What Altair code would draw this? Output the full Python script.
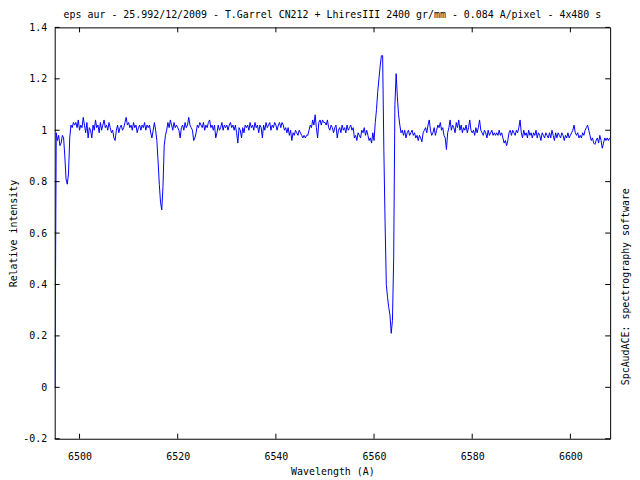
import altair as alt
import pandas as pd

FONT = "DejaVu Sans Mono"

WL_START = 6495.0
WL_STEP = 0.25

f_6495 = [0.00, 0.99, 0.96, 0.98, 0.94, 0.95, 0.98, 0.97, 0.90, 0.81, 0.79, 0.83, 0.97, 1.02, 1.01, 1.03, 1.02, 1.03, 1.01, 1.04]
f_6500 = [1.00, 1.02, 1.01, 1.05, 1.02, 0.99, 1.03, 0.97, 1.01, 1.00, 0.97, 1.02, 1.00, 1.04, 1.01, 1.02, 0.99, 1.03, 1.00, 1.02]
f_6505 = [1.04, 1.01, 1.02, 1.00, 1.03, 1.01, 0.99, 1.00, 0.97, 0.96, 1.00, 1.02, 0.99, 1.01, 1.02, 1.00, 1.01, 1.03, 1.05, 1.02]
f_6510 = [1.03, 1.01, 1.02, 1.00, 1.03, 1.01, 1.02, 0.99, 1.01, 1.02, 1.00, 1.02, 1.01, 1.03, 1.00, 1.02, 1.01, 1.02, 0.99, 0.97]
f_6515 = [1.00, 1.03, 1.00, 0.96, 0.88, 0.79, 0.72, 0.69, 0.78, 0.94, 0.98, 1.00, 1.03, 1.01, 1.04, 1.02, 1.00, 1.03, 1.01, 1.02]
f_6520 = [1.01, 1.00, 0.97, 1.01, 1.02, 1.00, 1.03, 1.01, 1.02, 1.05, 1.02, 1.01, 1.00, 0.96, 0.97, 0.99, 1.02, 1.01, 1.03, 1.02]
f_6525 = [1.01, 1.03, 1.00, 1.02, 1.01, 1.03, 1.04, 1.01, 1.02, 1.00, 1.02, 0.97, 0.99, 1.02, 1.00, 1.01, 1.03, 1.00, 1.02, 1.01]
f_6530 = [1.02, 1.00, 1.02, 1.03, 1.01, 1.02, 1.00, 1.02, 0.99, 0.95, 1.01, 1.00, 0.97, 1.01, 0.99, 1.02, 1.01, 1.02, 1.00, 1.03]
f_6535 = [1.01, 1.02, 1.00, 1.03, 1.01, 1.02, 0.99, 1.02, 1.01, 0.97, 1.02, 1.00, 1.03, 1.01, 1.02, 1.03, 1.00, 1.02, 1.01, 1.03]
f_6540 = [1.02, 1.00, 1.02, 1.03, 1.01, 1.03, 1.02, 1.00, 1.01, 0.99, 1.01, 0.98, 1.00, 0.96, 0.99, 0.98, 1.00, 0.99, 0.98, 1.00]
f_6545 = [0.99, 0.98, 0.97, 0.98, 0.97, 0.98, 0.98, 1.00, 1.02, 1.01, 1.04, 1.02, 1.06, 1.01, 0.97, 1.03, 1.04, 1.02, 1.04, 1.03]
f_6550 = [1.03, 1.02, 1.04, 1.01, 1.00, 1.02, 1.01, 0.99, 1.01, 1.02, 0.97, 1.00, 1.01, 0.99, 1.02, 1.00, 1.01, 0.99, 1.02, 1.00]
f_6555 = [1.01, 1.02, 1.00, 1.01, 0.97, 0.98, 0.96, 0.99, 0.98, 0.97, 1.00, 0.99, 1.01, 0.98, 1.00, 0.98, 0.96, 0.97, 0.95, 0.99]
f_6560 = [0.96, 1.03, 1.08, 1.15, 1.20, 1.25, 1.29, 1.29, 0.92, 0.64, 0.40, 0.35, 0.31, 0.28, 0.21, 0.26, 0.50, 1.10, 1.22, 1.13]
f_6565 = [1.06, 1.02, 0.99, 1.00, 0.98, 1.00, 0.97, 0.99, 1.00, 0.98, 0.99, 1.00, 0.98, 0.99, 0.97, 0.98, 0.96, 0.98, 0.97, 0.955]
f_6570 = [0.99, 1.00, 1.01, 0.99, 1.02, 1.04, 1.00, 0.98, 0.99, 1.01, 0.98, 1.00, 1.02, 1.01, 1.03, 1.00, 1.01, 0.98, 0.97, 0.925]
f_6575 = [0.99, 1.01, 1.04, 1.00, 1.02, 1.01, 0.99, 1.03, 1.01, 1.04, 1.00, 1.02, 0.99, 1.01, 1.00, 1.02, 0.99, 1.01, 1.04, 1.00]
f_6580 = [0.99, 1.00, 0.98, 1.01, 0.99, 1.01, 1.04, 1.00, 0.99, 0.98, 1.00, 0.99, 0.97, 1.00, 0.98, 0.99, 1.00, 0.98, 0.99, 0.98]
f_6585 = [0.99, 0.98, 1.00, 0.98, 0.99, 0.97, 0.95, 0.96, 0.94, 0.96, 0.99, 1.00, 0.98, 1.00, 0.99, 0.98, 1.00, 0.99, 1.01, 1.04]
f_6590 = [0.99, 0.97, 1.00, 0.98, 0.99, 0.97, 1.00, 0.98, 0.99, 0.97, 0.99, 0.98, 1.00, 0.97, 0.99, 0.98, 0.96, 0.99, 0.98, 0.97]
f_6595 = [0.99, 0.98, 0.97, 0.99, 0.97, 1.00, 0.98, 0.96, 0.99, 0.97, 0.99, 0.98, 0.97, 0.99, 0.98, 0.96, 0.98, 0.97, 0.99, 0.97]
f_6600 = [0.98, 0.99, 1.00, 1.02, 0.99, 0.98, 0.99, 0.97, 0.98, 0.97, 0.99, 0.98, 1.00, 1.01, 1.02, 1.00, 0.98, 0.96, 0.97, 0.95]
f_6605 = [0.945, 0.96, 0.97, 0.95, 0.98, 0.96, 0.93, 0.95, 0.97, 0.96, 0.97, 0.96, 0.97]

segments = [f_6495, f_6500, f_6505, f_6510, f_6515, f_6520, f_6525, f_6530,
            f_6535, f_6540, f_6545, f_6550, f_6555, f_6560, f_6565, f_6570,
            f_6575, f_6580, f_6585, f_6590, f_6595, f_6600, f_6605]
flux = [v for seg in segments for v in seg]
wavelength = [WL_START + WL_STEP * i for i in range(len(flux))]

x_ticks = [6500, 6520, 6540, 6560, 6580, 6600]
y_ticks = [-0.2, 0, 0.2, 0.4, 0.6, 0.8, 1, 1.2, 1.4]
X_DOMAIN = [6494.94, 6608.1]
Y_DOMAIN = [-0.2, 1.4]

TITLE = "eps aur - 25.992/12/2009 - T.Garrel CN212 + LhiresIII 2400 gr/mm - 0.084 A/pixel - 4x480 s"
X_TITLE = "Wavelength (A)"
Y_TITLE = "Relative intensity"
RIGHT_NOTE = "SpcAudACE: spectrography software"

W, H = 559, 414
TICK = 5

spec = pd.DataFrame({"wl": wavelength, "flux": flux})
xt = pd.DataFrame({"wl": x_ticks})
yt = pd.DataFrame({"flux": y_ticks})
note = pd.DataFrame({"txt": [RIGHT_NOTE]})
head = pd.DataFrame({"txt": [TITLE]})

xs = alt.Scale(domain=X_DOMAIN, nice=False, zero=False)
ys = alt.Scale(domain=Y_DOMAIN, nice=False, zero=False)

x_axis = alt.Axis(
    values=x_ticks, format="d", ticks=False, domain=False, grid=False,
    labelPadding=13, labelFont=FONT, labelFontSize=10, labelColor="black",
    title=X_TITLE, titleFont=FONT, titleFontSize=10, titleFontWeight="normal",
    titleColor="black", titlePadding=5)
y_axis = alt.Axis(
    values=y_ticks, ticks=False, domain=False, grid=False,
    labelExpr="datum.value < 0 ? '-' + format(-datum.value, '.1~f') : format(datum.value, '.1~f')",
    labelPadding=8, labelFont=FONT, labelFontSize=10, labelColor="black",
    title=Y_TITLE, titleFont=FONT, titleFontSize=10, titleFontWeight="normal",
    titleColor="black", titlePadding=4)

X = alt.X("wl:Q", scale=xs, axis=x_axis)
Y = alt.Y("flux:Q", scale=ys, axis=y_axis)

line = alt.Chart(spec).mark_line(color="#0000ff", strokeWidth=1, clip=True).encode(
    x=X, y=Y, order="wl:Q")

bottom_ticks = alt.Chart(xt).mark_rule(color="black", strokeWidth=1).encode(
    x=X, y=alt.value(H), y2=alt.value(H - TICK))
top_ticks = alt.Chart(xt).mark_rule(color="black", strokeWidth=1).encode(
    x=X, y=alt.value(0), y2=alt.value(TICK))
left_ticks = alt.Chart(yt).mark_rule(color="black", strokeWidth=1).encode(
    y=Y, x=alt.value(0), x2=alt.value(TICK))
right_ticks = alt.Chart(yt).mark_rule(color="black", strokeWidth=1).encode(
    y=Y, x=alt.value(W), x2=alt.value(W - TICK))

right_text = alt.Chart(note).mark_text(
    angle=270, font=FONT, fontSize=10, color="black", align="center", baseline="middle"
).encode(text="txt:N", x=alt.value(W + 16), y=alt.value(261))

title_text = alt.Chart(head).mark_text(
    font=FONT, fontSize=10, color="black", align="center", baseline="middle"
).encode(text="txt:N", x=alt.value(W / 2), y=alt.value(-12))

chart = alt.layer(line, bottom_ticks, top_ticks, left_ticks, right_ticks,
                  right_text, title_text).properties(
    width=W, height=H,
    autosize=alt.AutoSizeParams(type="none"),
    padding={"left": 47, "top": 18, "right": 22, "bottom": 38},
    background="white",
).configure_view(stroke="black", strokeWidth=1)

chart.save("out.html", embed_options={"renderer": "svg", "actions": False})
